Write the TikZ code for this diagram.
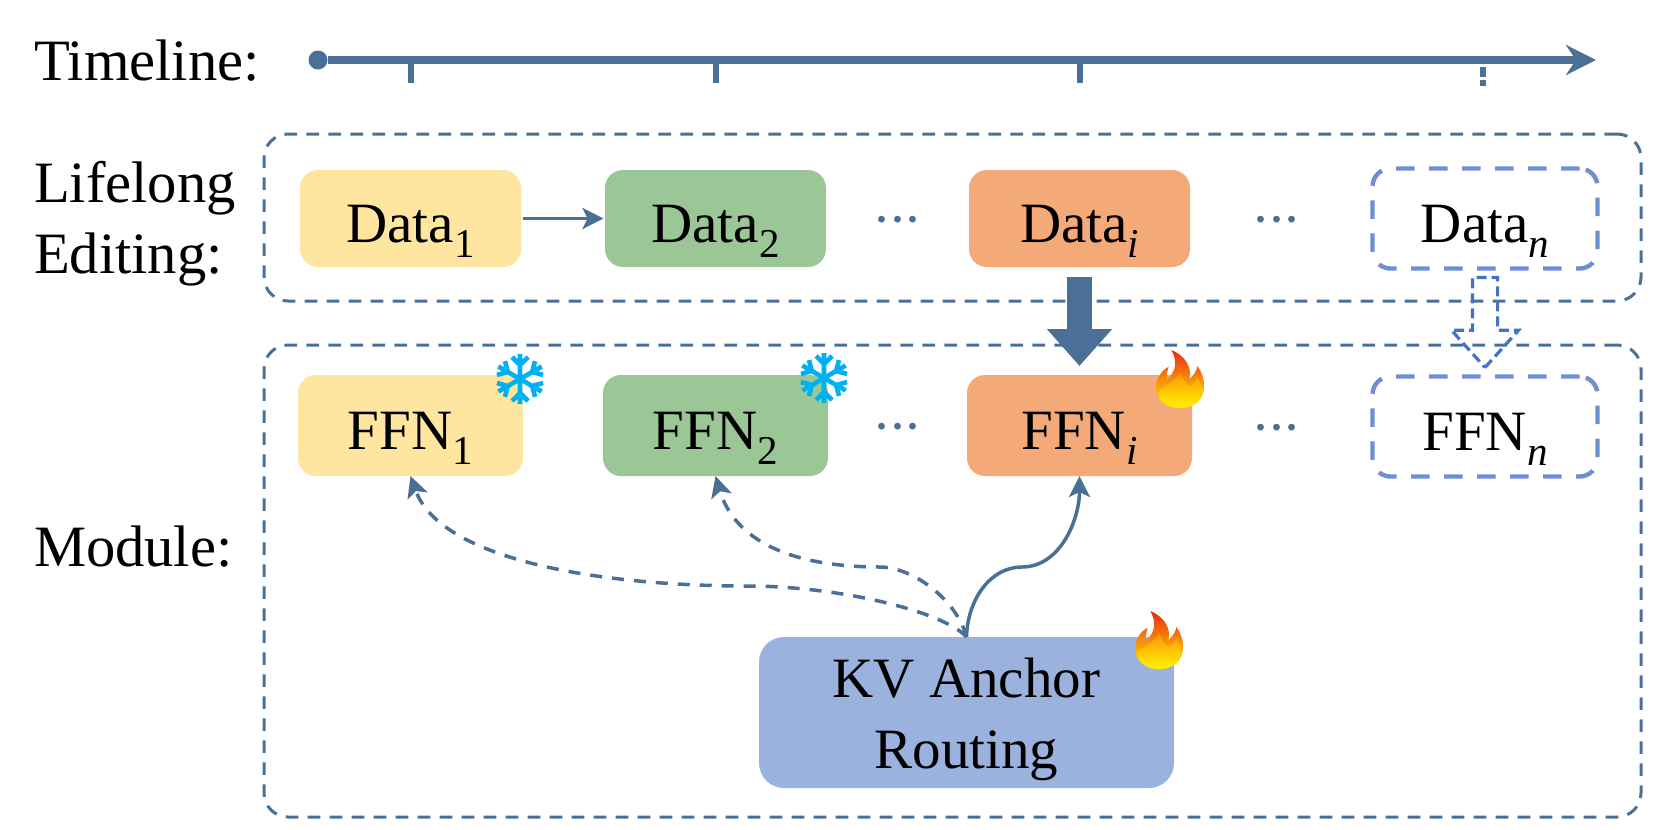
\documentclass[tikz,border=0pt]{standalone}
\usepackage{xcolor}
\usepackage{fontspec}
\setmainfont{Liberation Serif}
\usepackage{tikz}
\usetikzlibrary{shapes.arrows, arrows.meta, positioning, calc, backgrounds}
\definecolor{steelline}{RGB}{75,112,150}
\definecolor{dashblue}{RGB}{110,143,210}
\definecolor{hollowblue}{RGB}{68,114,196}
\definecolor{paleyellow}{RGB}{255,230,160}
\definecolor{palegreen}{RGB}{155,199,150}
\definecolor{paleorange}{RGB}{244,170,120}
\definecolor{paleblue}{RGB}{155,177,222}
\definecolor{iceblue}{RGB}{0,176,240}
\definecolor{flametop}{RGB}{238,40,20}
\definecolor{flamemid}{RGB}{255,150,10}
\definecolor{flamelow}{RGB}{255,240,0}
\newcommand{\lowsub}[1]{\raisebox{-7.5pt}{\fontsize{20.5}{20.5}\selectfont #1}}
\newcommand{\threedots}{\textperiodcentered\hspace{-1.65pt}\textperiodcentered\hspace{-1.65pt}\textperiodcentered}
\tikzset{
  labeltext/.style={
    anchor=west, align=left, inner sep=0pt, outer sep=0pt,
    font=\fontsize{29.3}{35.5}\selectfont
  },
  datablock/.style={
    rectangle, rounded corners=9pt, inner sep=0pt, outer sep=0pt,
    minimum width=110.5pt, minimum height=48.5pt,
    text height=24pt, text depth=0pt, font=\fontsize{28.5}{35.5}\selectfont
  },
  ffnblock/.style={datablock, minimum width=112.5pt, minimum height=50.5pt},
  futureblock/.style={
    datablock, minimum width=112.5pt, minimum height=50pt,
    draw=dashblue, line width=2.2pt, dash pattern=on 9.25pt off 7.25pt
  },
  anchorblock/.style={
    rectangle, rounded corners=12.5pt, fill=paleblue, align=center,
    inner sep=0pt, outer sep=0pt, minimum width=207.5pt, minimum height=75.5pt,
    text height=62pt, font=\fontsize{28.5}{35.5}\selectfont
  },
  groupbox/.style={
    rectangle, rounded corners=12pt, draw=steelline, line width=1.5pt,
    dash pattern=on 6.3pt off 4.7pt, inner sep=0pt, outer sep=0pt
  },
  dotsnode/.style={
    inner sep=0pt, text=steelline, text height=20pt, text depth=0pt,
    font=\fontsize{28.5}{35.5}\selectfont
  },
  timeline/.style={-{Stealth[length=15pt, width=15pt, inset=5pt]}, line width=3.6pt, draw=steelline},
  tickline/.style={line width=3pt, draw=steelline},
  arrow/.style={-{Stealth[length=10.5pt, width=10.5pt, inset=2.5pt]}, line width=1.75pt, draw=steelline},
  dasharrow/.style={arrow, dash pattern=on 6pt off 5pt},
  bigarrow/.style={-{Triangle[length=18.5pt, width=31.5pt]}, line width=12.7pt, draw=steelline},
  hollowarrow/.style={
    single arrow, draw=hollowblue, line width=1.6pt, dash pattern=on 5pt off 2.5pt,
    shape border rotate=270, inner sep=0pt, outer sep=0pt, text width=11pt,
    minimum height=45pt, single arrow head extend=10.5pt, single arrow tip angle=84
  },
  snowicon/.pic={
    \foreach \ang in {0,60,...,300} {
      \draw[iceblue, line width=2.3pt, rotate=\ang] (0,0) -- (0,-25)
        (-8,-22) -- (0,-14) -- (8,-22);
    }
  },
  flameicon/.pic={
    \shade[top color=flametop, middle color=flamemid, bottom color=flamelow]
      (-8.7,-30) .. controls (6,-24) and (12,-12) .. (9.5,-1)
      .. controls (14,-5) and (17,-10) .. (17.3,-14)
      .. controls (22,-8) and (24.5,0) .. (24,6)
      .. controls (24,20) and (14,28) .. (0,28.3)
      .. controls (-14,28) and (-24,20) .. (-24,8)
      .. controls (-24,-2) and (-18,-10) .. (-11.3,-13.3)
      .. controls (-13,-8) and (-14,-4) .. (-13,0)
      .. controls (-8,-6) and (0,-14) .. (-8.7,-30) -- cycle;
    \shade[top color=flamemid, bottom color=flamelow]
      (-22,12) .. controls (-14,4) and (-4,2) .. (0,-8)
      .. controls (3,0) and (6,4) .. (10,6)
      .. controls (14,4) and (16,0) .. (17,-3)
      .. controls (22,4) and (23,10) .. (22,14)
      .. controls (20,24) and (10,27) .. (0,27)
      .. controls (-12,27) and (-21,22) .. (-22,12) -- cycle;
  }
}
\begin{document}
\begin{tikzpicture}[x=0.5pt, y=-0.5pt]
\useasboundingbox (0,0) rectangle (1660,830);

\node[labeltext] (timelabel) at (34,61) {Timeline:};
\node[labeltext] (editlabel) at (34,224) {Lifelong\\Editing:};
\node[labeltext] (modulelabel) at (34,547) {Module:};

\node[datablock, fill=paleyellow] (data1) at (410.5,218.5) {Data\lowsub{1}};
\node[datablock, fill=palegreen, right=42pt of data1] (data2) {Data\lowsub{2}};
\node[datablock, fill=paleorange, right=71.5pt of data2] (datai) {Data\lowsub{\textit{i}}};
\node[futureblock, right=91.25pt of datai] (datan) {Data\lowsub{\textit{n}}};

\node[ffnblock, fill=paleyellow, below=54pt of data1] (ffn1) {FFN\lowsub{1}};
\node[ffnblock, fill=palegreen, below=54pt of data2] (ffn2) {FFN\lowsub{2}};
\node[ffnblock, fill=paleorange, below=54pt of datai] (ffni) {FFN\lowsub{\textit{i}}};
\node[futureblock, below=54pt of datan] (ffnn) {FFN\lowsub{\textit{n}}};

\node[anchorblock] (kv) at (966.5,712.5) {KV Anchor\\Routing};

\node[dotsnode] (dotsa) at ($(data2)!.5!(datai)$) {\threedots};
\node[dotsnode] (dotsb) at ($(datai)!.5!(datan)+(-5.5,0)$) {\threedots};
\node[dotsnode] (dotsc) at ($(ffn2)!.5!(ffni)$) {\threedots};
\node[dotsnode] (dotsd) at ($(ffni)!.5!(ffnn)+(-5.5,0)$) {\threedots};

\begin{scope}[on background layer]
  \node[groupbox, minimum width=688.5pt, minimum height=83.5pt] (editbox) at (952.5,217.5) {};
  \node[groupbox, minimum width=688.5pt, minimum height=236pt] (modulebox) at (952.5,581) {};
\end{scope}

% time axis
\node[circle, fill=steelline, inner sep=0pt, minimum size=9.5pt] (start) at (318,60) {};
\coordinate (end) at (1596,60);
\draw[timeline] (start) -- (end);
\foreach \src in {data1,data2,datai} {
  \draw[tickline] (\src |- start) -- ++(0,23);
}
\draw[tickline, dash pattern=on 5pt off 1.5pt] ([shift={(-2.5,7)}]datan |- start) -- ++(0,19);

\draw[arrow, shorten <=0.75pt, shorten >=0.75pt] (data1) -- (data2);
\draw[bigarrow, shorten <=5pt, shorten >=4.5pt] (datai) -- (ffni);
\node[hollowarrow, below=4.5pt of datan] (nextarrow) {};

% routing curves
\coordinate (solidmid) at (1022,567);
\coordinate (farmid) at (747,586);
\coordinate (nearmid) at (880,567);
\draw[arrow] (kv.north) .. controls +(1,-37) and +(-32,0) .. (solidmid)
  .. controls +(38,0) and +(0,44) .. (ffni.south);
\draw[dasharrow] (kv.north) .. controls +(-22,-25) and +(93,0) .. (farmid)
  .. controls +(-147,0) and +(30,84) .. (ffn1.south);
\draw[dasharrow] (kv.north) .. controls +(-10,-38) and +(32,0) .. (nearmid)
  .. controls +(-90,0) and +(19,64) .. (ffn2.south);

\pic at ([shift={(-3,4)}]ffn1.north east) {snowicon};
\pic at ([shift={(-4,3)}]ffn2.north east) {snowicon};
\pic at ([shift={(-12,5)}]ffni.north east) {flameicon};
\pic at ([shift={(-15,4)}]kv.north east) {flameicon};

\end{tikzpicture}
\end{document}
